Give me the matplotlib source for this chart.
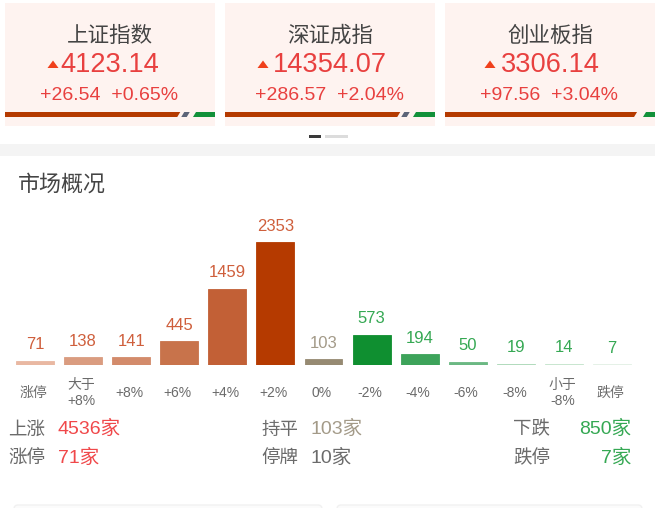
import matplotlib
matplotlib.use('Agg')
import matplotlib.pyplot as plt
from matplotlib.patches import Rectangle, Polygon, FancyBboxPatch
from matplotlib.transforms import ScaledTranslation

FONT = ['Liberation Sans', 'Noto Sans CJK SC', 'DejaVu Sans']
plt.rcParams['font.family'] = FONT

W, H = 655, 508
RED, GREEN, GREY_TXT, DARK = '#e8403f', '#35a853', '#6b6b6b', '#444444'
BROWN = '#a39a88'

index_names = ['上证指数', '深证成指', '创业板指']
index_values = ['4123.14', '14354.07', '3306.14']
index_changes = ['+26.54', '+286.57', '+97.56']
index_pcts = ['+0.65%', '+2.04%', '+3.04%']
index_title_x = [110, 330, 550]
index_triangle_x = [53, 263, 490]
index_stripe_up = [0.825, 0.825, 0.905]
index_stripe_flat_end = [0.875, 0.875, 0.905]

categories = ['涨停', '大于\n+8%', '+8%', '+6%', '+4%', '+2%', '0%', '-2%', '-4%', '-6%', '-8%', '小于\n-8%', '跌停']
counts = [71, 138, 141, 445, 1459, 2353, 103, 573, 194, 50, 19, 14, 7]
bar_colors = ['#e9b8a2', '#da9c80', '#d38b6b', '#c8734b', '#c26036', '#b53a00', '#968a72',
              '#0f8f30', '#3da35a', '#6bb883', '#acd9b8', '#c5e4cd', '#e3f1e6']
label_colors = ['#cf5f3c'] * 6 + [BROWN] + [GREEN] * 6

fig = plt.figure(figsize=(W / 100, H / 100), dpi=100, facecolor='white')
bg = fig.add_axes([0, 0, 1, 1])
bg.set_xlim(0, W)
bg.set_ylim(H, 0)
bg.axis('off')

# index cards
for i, x0 in enumerate([5, 225, 445]):
    bg.add_patch(Rectangle((x0, 3), 210, 123, fc='#fef3f0', ec='none'))
    cx = index_title_x[i]
    bg.text(cx, 36, index_names[i], ha='center', va='center', fontsize=15.5,
            color=DARK, family=['Noto Sans CJK SC'])
    bg.text(cx, 65, index_values[i], ha='center', va='center', fontsize=19.6, color=RED)
    tx = index_triangle_x[i]
    bg.add_patch(Polygon([(tx - 5.5, 68), (tx + 5.5, 68), (tx, 60.5)], fc='#f0401c', ec='none'))
    bg.text(cx - 0.5, 96, index_changes[i] + '  ' + index_pcts[i], ha='center', va='center',
            fontsize=14, color=RED)
    # split strip
    y0, y1 = 112, 117
    a = x0 + 210 * index_stripe_up[i]
    b = x0 + 210 * index_stripe_flat_end[i]
    bg.add_patch(Polygon([(x0, y0), (a + 2, y0), (a - 1, y1), (x0, y1)], fc='#b53a00', ec='none'))
    if b > a:
        bg.add_patch(Polygon([(a + 6, y0), (b + 1, y0), (b - 2, y1), (a + 3, y1)], fc='#5c6478', ec='none'))
        g = b + 4
    else:
        g = a + 8
    bg.add_patch(Polygon([(g + 3, y0), (x0 + 210, y0), (x0 + 210, y1), (g, y1)], fc='#12913a', ec='none'))

# pager + separator
bg.add_patch(Rectangle((309, 134.5), 12, 3, fc='#3a3a3a', ec='none'))
bg.add_patch(Rectangle((325, 134.5), 23, 3, fc='#dcdcdc', ec='none'))
bg.add_patch(Rectangle((0, 144), W, 12, fc='#f4f4f4', ec='none'))
bg.text(18, 185, '市场概况', ha='left', va='center', fontsize=15.8, color=DARK,
        family=['Noto Sans CJK SC'])

# bar chart, placed in pixel space so baseline is y=364.5 and 2353 tops at y=242
ax_left, ax_right, ax_top, ax_bottom = 11, 636, 242, 364.5
ax = fig.add_axes([ax_left / W, 1 - ax_bottom / H, (ax_right - ax_left) / W, (ax_bottom - ax_top) / H])
ax.patch.set_alpha(0)
pos = list(range(len(counts)))
ax.bar(pos, counts, width=0.79, color=bar_colors, edgecolor=bar_colors, linewidth=0.6)
ax.set_xlim(-0.5, len(counts) - 0.5)
ax.set_ylim(0, max(counts))
for s in ax.spines.values():
    s.set_visible(False)
ax.set_yticks([])
ax.set_xticks(pos)
ax.set_xticklabels(categories, fontsize=10, color=GREY_TXT, linespacing=1.25)
ax.tick_params(axis='x', length=0, pad=20.5)
shift = ScaledTranslation(-1.5 / 100, 0, fig.dpi_scale_trans)
for lab in ax.get_xticklabels():
    lab.set_verticalalignment('center')
    lab.set_transform(lab.get_transform() + shift)
for i, (p, c) in enumerate(zip(pos, counts)):
    ax.annotate(str(c), (p, c), xytext=(0, 11.5), textcoords='offset points', ha='center', va='center',
                fontsize=12, color=label_colors[i], annotation_clip=False)

# footer
summary_labels = [['上涨', '涨停'], ['持平', '停牌'], ['下跌', '跌停']]
summary_values = [['4536家', '71家'], ['103家', '10家'], ['850家', '7家']]
summary_colors = [['#f0484a', '#f0484a'], [BROWN, '#6b6b6b'], [GREEN, GREEN]]
label_x = [8.5, 261.5, 513.5]
value_x = [58, 310, 631.5]
value_ha = ['left', 'left', 'right']
row_y = [429.5, 458.5]
for c in range(3):
    for r in range(2):
        bg.text(label_x[c], row_y[r], summary_labels[c][r], ha='left', va='center',
                fontsize=13.3, color=GREY_TXT, family=['Noto Sans CJK SC'])
        bg.text(value_x[c], row_y[r] - 0.5, summary_values[c][r], ha=value_ha[c], va='center',
                fontsize=14, color=summary_colors[c][r])

# tops of the next cards
for x0, x1 in [(14, 322), (337, 642)]:
    bg.add_patch(FancyBboxPatch((x0, 505), x1 - x0, 20, boxstyle='round,pad=0,rounding_size=4',
                                fc='#fbfbfb', ec='#f1f1f1', lw=1))

fig.savefig('out.png', dpi=100, facecolor='white')
